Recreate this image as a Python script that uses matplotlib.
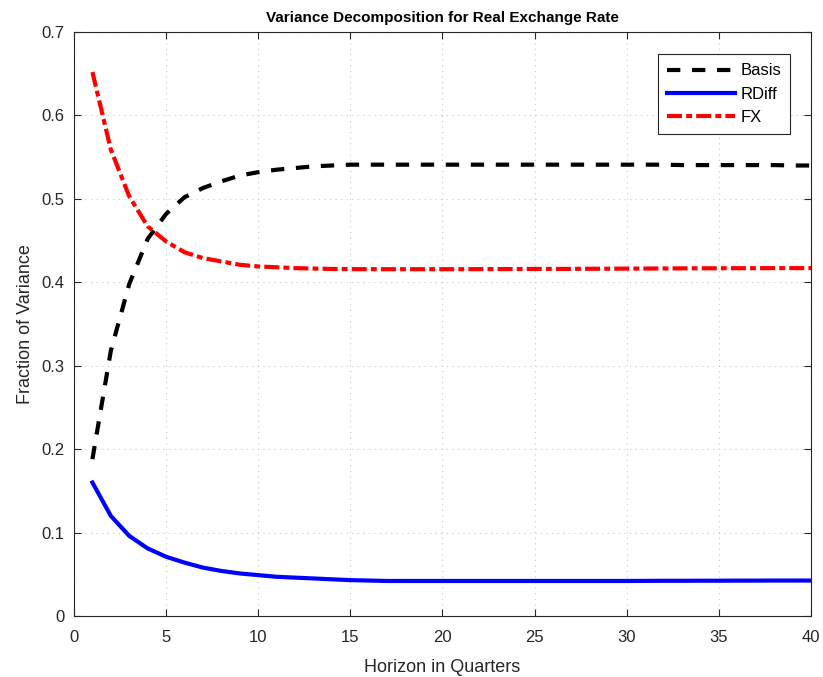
import numpy as np
import matplotlib
matplotlib.use('Agg')
import matplotlib.pyplot as plt

plt.rcParams['font.family'] = ['Liberation Sans', 'DejaVu Sans']

# horizon (quarters) and variance shares
horizon = np.arange(1, 41)

basis = [0.188, 0.318, 0.398, 0.452, 0.482, 0.502, 0.513, 0.521, 0.528, 0.532,
         0.535, 0.537, 0.539, 0.540, 0.541, 0.541, 0.541, 0.541, 0.541, 0.541,
         0.541, 0.541, 0.541, 0.541, 0.541, 0.541, 0.541, 0.541, 0.541, 0.541,
         0.541, 0.541, 0.5405, 0.5405, 0.5405, 0.5405, 0.5405, 0.5405, 0.540, 0.540]

rdiff = [0.160, 0.120, 0.096, 0.081, 0.071, 0.064, 0.058, 0.054, 0.051, 0.049,
         0.047, 0.046, 0.045, 0.044, 0.043, 0.0425, 0.042, 0.042, 0.042, 0.042,
         0.042, 0.042, 0.042, 0.042, 0.042, 0.042, 0.042, 0.042, 0.042, 0.042,
         0.0421, 0.0422, 0.0422, 0.0423, 0.0423, 0.0424, 0.0424, 0.0425, 0.0425, 0.0425]

fx = [0.652, 0.559, 0.503, 0.467, 0.449, 0.436, 0.429, 0.425, 0.421, 0.419,
      0.418, 0.417, 0.4165, 0.416, 0.4158, 0.4157, 0.4157, 0.4157, 0.4157, 0.4157,
      0.4157, 0.4158, 0.4158, 0.4159, 0.416, 0.416, 0.4161, 0.4162, 0.4163, 0.4164,
      0.4165, 0.4166, 0.4167, 0.4168, 0.4168, 0.4169, 0.4169, 0.417, 0.417, 0.417]

fig = plt.figure(figsize=(8.23, 6.77), dpi=100)
ax = fig.add_axes([0.0899, 0.0901, 0.8955, 0.8626])

ax.plot(horizon, basis, color='black', linewidth=3, dashes=(3.2, 2.8), label='Basis')
ax.plot(horizon, rdiff, color='blue', linewidth=3, label='RDiff')
ax.plot(horizon, fx, color='red', linewidth=3, dashes=(3.6, 1.0, 1.4, 1.0), label='FX')

ax.set_xlim(0, 40)
ax.set_ylim(0, 0.7)
ax.set_xticks(np.arange(0, 41, 5))
ax.set_yticks(np.arange(0, 0.71, 0.1))
ax.set_yticklabels(['0', '0.1', '0.2', '0.3', '0.4', '0.5', '0.6', '0.7'])
ax.tick_params(direction='in', top=True, right=True, labelsize=12, colors='#262626',
               length=5, width=0.8)
ax.tick_params(axis='x', pad=10)
ax.tick_params(axis='y', pad=7)
for s in ax.spines.values():
    s.set_color('#262626')
    s.set_linewidth(0.8)
ax.grid(True, color='#c8c8c8', linewidth=0.8, dashes=(1, 4))
ax.set_axisbelow(True)

ax.set_xlabel('Horizon in Quarters', fontsize=13, color='#262626', labelpad=10)
ax.set_ylabel('Fraction of Variance', fontsize=13, color='#262626', labelpad=5)
ax.set_title('Variance Decomposition for Real Exchange Rate', fontsize=11,
             fontweight='bold', pad=7)

leg = ax.legend(loc='upper right', bbox_to_anchor=(0.972, 0.962), fontsize=12,
                fancybox=False, framealpha=1, edgecolor='#262626', handlelength=4.1,
                borderpad=0.55, labelspacing=0.5, handletextpad=0.3, borderaxespad=0)
leg.get_frame().set_linewidth(0.8)

fig.savefig('out.png', dpi=100)
